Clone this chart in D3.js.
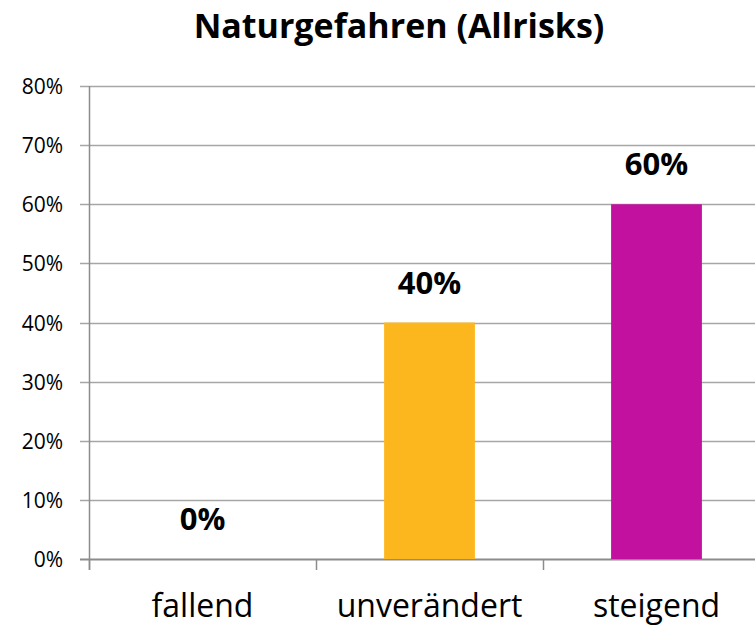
<!DOCTYPE html>
<html>
<head>
<meta charset="utf-8">
<script src="https://cdn.jsdelivr.net/npm/d3@7"></script>
<style>
  body { margin: 0; background: #fff; }
  svg { display: block; font-family: "Open Sans", "Noto Sans", sans-serif; }
</style>
</head>
<body>
<svg id="chart" width="755" height="626"></svg>
<script>
// chart data
const categories = ["fallend", "unverändert", "steigend"];
const values = [0, 0.40, 0.60];
const barColors = ["#FDB71E", "#FDB71E", "#C2119F"];
const yTicks = [0, 0.1, 0.2, 0.3, 0.4, 0.5, 0.6, 0.7, 0.8];
const title = "Naturgefahren (Allrisks)";

const svg = d3.select("#chart");

// plot area (right side runs past the window, as in the original)
const plotLeft = 89, plotRight = 770, plotTop = 86, plotBottom = 559;

let x = d3.scaleBand()
    .domain(categories)
    .range([plotLeft, plotRight])
    .paddingInner(0.6)
    .paddingOuter(0.3);

let xTickScale = d3.scaleBand()
    .domain(categories)
    .range([plotLeft, plotRight]);

let y = d3.scaleLinear()
    .domain([0, 0.8])
    .range([plotBottom, plotTop]);

// title
svg.append("text")
    .attr("x", 399)
    .attr("y", 38)
    .attr("text-anchor", "middle")
    .style("font-size", "34px")
    .style("font-weight", "bold")
    .text(title);

// gridlines
svg.append("g")
    .selectAll("line")
    .data(yTicks)
    .enter()
    .append("line")
    .attr("x1", plotLeft - 9)
    .attr("x2", plotRight)
    .attr("y1", d => Math.round(y(d)) + 0.5)
    .attr("y2", d => Math.round(y(d)) + 0.5)
    .style("stroke", d => d === 0 ? "#8c8c8c" : "#a6a6a6")
    .style("stroke-width", d => d === 0 ? 2 : 1.3);

// y tick labels
svg.append("g")
    .selectAll("text")
    .data(yTicks)
    .enter()
    .append("text")
    .attr("x", 63)
    .attr("y", d => y(d) + 8)
    .attr("text-anchor", "end")
    .style("font-size", "21px")
    .text(d3.format(".0%"));

// y axis line
svg.append("line")
    .attr("x1", plotLeft + 0.5).attr("x2", plotLeft + 0.5)
    .attr("y1", plotTop).attr("y2", plotBottom + 11)
    .style("stroke", "#8c8c8c")
    .style("stroke-width", 1.5);

// category ticks
svg.append("g")
    .selectAll("line")
    .data(categories)
    .enter()
    .append("line")
    .attr("x1", d => Math.round(xTickScale(d)) + 0.5)
    .attr("x2", d => Math.round(xTickScale(d)) + 0.5)
    .attr("y1", plotBottom)
    .attr("y2", plotBottom + 11)
    .style("stroke", "#8c8c8c")
    .style("stroke-width", 1.5);

// bars
svg.append("g")
    .selectAll("rect")
    .data(values)
    .enter()
    .append("rect")
    .attr("x", (d, i) => x(categories[i]))
    .attr("width", x.bandwidth())
    .attr("y", d => y(d))
    .attr("height", d => plotBottom - y(d))
    .style("fill", (d, i) => barColors[i]);

// data labels
svg.append("g")
    .selectAll("text")
    .data(values)
    .enter()
    .append("text")
    .attr("x", (d, i) => x(categories[i]) + x.bandwidth() / 2)
    .attr("y", d => y(d) - 29)
    .attr("text-anchor", "middle")
    .style("font-size", "31px")
    .style("font-weight", "bold")
    .text(d3.format(".0%"));

// category labels
svg.append("g")
    .selectAll("text")
    .data(categories)
    .enter()
    .append("text")
    .attr("x", d => x(d) + x.bandwidth() / 2)
    .attr("y", 617)
    .attr("text-anchor", "middle")
    .style("font-size", "32px")
    .text(d => d);
</script>
</body>
</html>
